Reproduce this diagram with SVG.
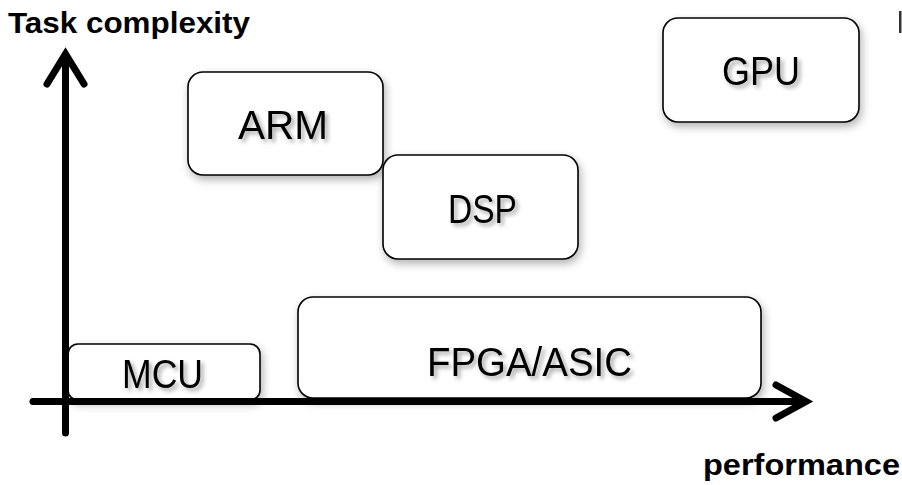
<svg xmlns="http://www.w3.org/2000/svg" width="902" height="485" viewBox="0 0 902 485">
  <defs>
    <filter id="boxShadow" x="-10%" y="-20%" width="130%" height="150%">
      <feDropShadow dx="2" dy="4" stdDeviation="4" flood-color="#000" flood-opacity="0.3"/>
    </filter>
    <filter id="textShadow" x="-10%" y="-30%" width="130%" height="170%">
      <feDropShadow dx="3" dy="3" stdDeviation="2" flood-color="#000" flood-opacity="0.35"/>
    </filter>
  </defs>
  <style>
    .box { fill: #fff; stroke: #000; stroke-width: 1.6; filter: url(#boxShadow); }
    .label { font-family: "Liberation Sans", Arial, sans-serif; font-size: 40px; fill: #000; filter: url(#textShadow); }
    .axislabel { font-family: "Liberation Sans", Arial, sans-serif; font-size: 29px; font-weight: bold; fill: #000; }
    .axis { fill: none; stroke: #000; stroke-width: 7; stroke-linecap: round; stroke-linejoin: miter; }
  </style>
  <rect width="902" height="485" fill="#fff"/>

  <g id="node-arm">
    <rect class="box" x="188" y="72" width="195" height="103" rx="15"/>
    <text class="label" x="238" y="139" textLength="90" lengthAdjust="spacingAndGlyphs">ARM</text>
  </g>
  <g id="node-dsp">
    <rect class="box" x="383" y="155" width="195" height="104" rx="15"/>
    <text class="label" x="448" y="223" textLength="69" lengthAdjust="spacingAndGlyphs">DSP</text>
  </g>
  <g id="node-gpu">
    <rect class="box" x="663" y="18" width="196" height="104" rx="15"/>
    <text class="label" x="722" y="85" textLength="78" lengthAdjust="spacingAndGlyphs">GPU</text>
  </g>
  <g id="node-mcu">
    <rect class="box" x="68" y="344" width="192" height="56" rx="10"/>
    <text class="label" x="122" y="388" textLength="81" lengthAdjust="spacingAndGlyphs">MCU</text>
  </g>
  <g id="node-fpga">
    <rect class="box" x="298" y="297" width="463" height="101" rx="15"/>
    <text class="label" x="427" y="376" textLength="205" lengthAdjust="spacingAndGlyphs">FPGA/ASIC</text>
  </g>

  <g id="connectors">
    <line class="axis" x1="65.5" y1="58" x2="65.5" y2="433" stroke-linecap="butt"/>
    <path class="axis" d="M47,84 L65.5,54 L84,84"/>
    <line class="axis" x1="33" y1="401.5" x2="803" y2="401.5" stroke-linecap="butt"/>
    <path class="axis" d="M776,385 L806,401.5 L776,418"/>
  </g>

  <g id="axis-labels">
    <text class="axislabel" x="8" y="33" textLength="242" lengthAdjust="spacingAndGlyphs">Task complexity</text>
    <text class="axislabel" x="703" y="475" textLength="197" lengthAdjust="spacingAndGlyphs">performance</text>
  </g>

  <rect x="899" y="11" width="2.5" height="22" fill="#333"/>
</svg>
